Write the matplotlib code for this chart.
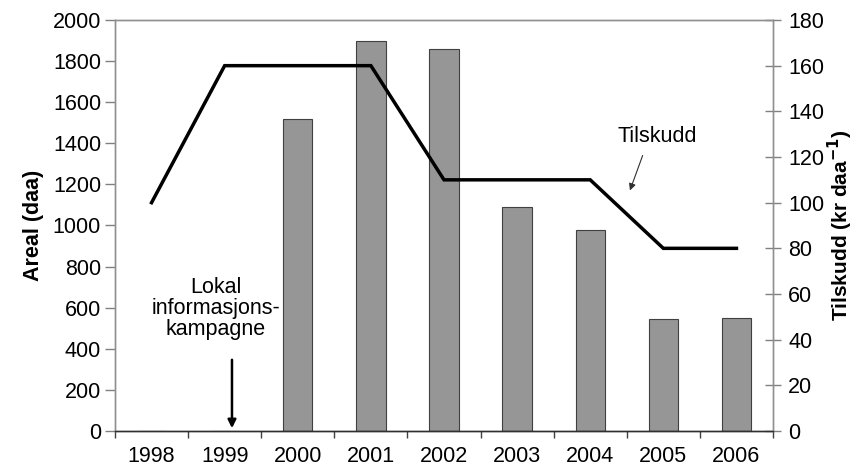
import matplotlib
matplotlib.use('Agg')
import matplotlib.pyplot as plt
import numpy as np

plt.rcParams['font.family'] = ['Liberation Sans', 'DejaVu Sans']

years = ['1998', '1999', '2000', '2001', '2002', '2003', '2004', '2005', '2006']
areal = [0, 0, 1520, 1900, 1860, 1090, 980, 545, 550]
tilskudd = [100, 160, 160, 160, 110, 110, 110, 80, 80]

x = np.arange(len(years))
fs = 15.5

fig = plt.figure(figsize=(8.58, 4.75), dpi=100)
ax = fig.add_axes([115/858, 44/475, 658/858, 411/475])
ax2 = ax.twinx()

ax.bar(x, areal, width=0.4, color='#969696', edgecolor='#404040', linewidth=0.8, zorder=2)
ax.set_xlim(-0.5, len(years) - 0.5)
ax.set_ylim(0, 2000)
ax.set_yticks(np.arange(0, 2001, 200))
ax.set_xticks(x)
ax.set_xticklabels(years)
ax.set_xticks(np.arange(-0.5, len(years), 1), minor=True)
ax.tick_params(axis='x', which='major', length=0, pad=11, labelsize=fs)
ax.tick_params(axis='x', which='minor', length=5, width=1, color='#404040', direction='out')
ax.tick_params(axis='y', length=7, width=1, color='#808080', direction='out', labelsize=fs, pad=3)
ax.set_ylabel('Areal (daa)', fontsize=fs, fontweight='bold', labelpad=6)

ax2.plot(x, tilskudd, color='black', linewidth=2.5, solid_joinstyle='miter', zorder=3)
ax2.set_ylim(0, 180)
ax2.set_yticks(np.arange(0, 181, 20))
ax2.tick_params(axis='y', length=12, width=1, color='#808080', direction='inout', labelsize=fs, pad=5)
ax2.set_ylabel('Tilskudd (kr daa$^{\\mathbf{-1}}$)', fontsize=15, fontweight='bold', labelpad=1)

for a in (ax, ax2):
    for s in ('left', 'right', 'top'):
        a.spines[s].set_color('#909090')
        a.spines[s].set_linewidth(1)
    a.spines['bottom'].set_color('#303030')
    a.spines['bottom'].set_linewidth(1)

ax.text(0.88, 598, 'Lokal\ninformasjons-\nkampagne', ha='center', va='center',
        fontsize=fs, linespacing=1.0)
ax.annotate('', xy=(1.1, 0), xytext=(1.1, 360),
            arrowprops=dict(arrowstyle='-|>', color='black', lw=1.8, mutation_scale=12))

ax2.text(6.92, 128.8, 'Tilskudd', ha='center', va='center', fontsize=fs)
ax2.annotate('', xy=(6.53, 104.2), xytext=(6.73, 121.8),
             arrowprops=dict(arrowstyle='-|>', color='#303030', lw=0.8, mutation_scale=10))

plt.savefig('out.png', dpi=100)
